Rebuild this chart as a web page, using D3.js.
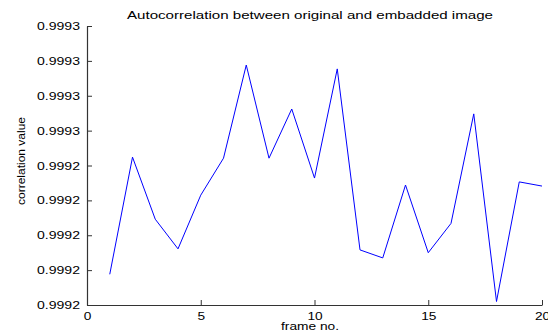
<!DOCTYPE html>
<html>
<head>
<meta charset="utf-8">
<script src="https://cdn.jsdelivr.net/npm/d3@7"></script>
<style>
  html, body { margin: 0; padding: 0; background: #fff; }
  svg { display: block; }
  text { font-family: "Liberation Sans", Arial, Helvetica, sans-serif; fill: #000; }
</style>
</head>
<body>
<svg id="chart" width="548" height="336"></svg>
<script>
// Frame numbers and the correlation between the original and the embedded frame
const frames = [1, 2, 3, 4, 5, 6, 7, 8, 9, 10, 11, 12, 13, 14, 15, 16, 17, 18, 19, 20];
const correlation = [
  0.9992088, 0.9992424, 0.9992246, 0.9992161, 0.9992315,
  0.9992421, 0.9992688, 0.9992421, 0.9992562, 0.9992364,
  0.9992677, 0.9992158, 0.9992135, 0.9992344, 0.9992150,
  0.9992234, 0.9992548, 0.9992010, 0.9992353, 0.9992341
];

// Axis ticks and their printed labels (4 significant decimals)
const xTicks = [0, 5, 10, 15, 20];
const yTicks = [0.99920, 0.99921, 0.99922, 0.99923, 0.99924, 0.99925, 0.99926, 0.99927, 0.99928];
const yTickLabels = ["0.9992", "0.9992", "0.9992", "0.9992", "0.9992", "0.9993", "0.9993", "0.9993", "0.9993"];

const titleText = "Autocorrelation between original and embadded image";
const xLabelText = "frame no.";
const yLabelText = "correlation value";

// Plot area
const plot = { left: 87, right: 542, top: 26, bottom: 305 };

const svg = d3.select("#chart");

const x = d3.scaleLinear().domain([0, 20]).range([plot.left, plot.right]);
const y = d3.scaleLinear().domain([0.99920, 0.99928]).range([plot.bottom, plot.top]);

// Bottom axis, ticks pointing into the plot
const xAxis = d3.axisBottom(x)
  .tickValues(xTicks)
  .tickSizeInner(-5)
  .tickSizeOuter(0)
  .tickPadding(8)
  .tickFormat(d3.format("d"));

const gx = svg.append("g")
  .attr("transform", `translate(0,${plot.bottom})`)
  .call(xAxis);

// Left axis, ticks pointing into the plot
const yAxis = d3.axisLeft(y)
  .tickValues(yTicks)
  .tickSizeInner(-5)
  .tickSizeOuter(0)
  .tickPadding(7)
  .tickFormat((d, i) => yTickLabels[i]);

const gy = svg.append("g")
  .attr("transform", `translate(${plot.left},0)`)
  .call(yAxis);

[gx, gy].forEach(g => {
  g.select(".domain").attr("stroke", "#333").attr("stroke-width", 1.2);
  g.selectAll(".tick line").attr("stroke", "#333").attr("stroke-width", 1);
  g.selectAll(".tick text")
    .attr("font-size", 10)
    .attr("font-family", "Liberation Sans, Arial, sans-serif")
    .attr("fill", "#000");
});

// Labels are drawn horizontally widened
gy.selectAll(".tick text")
  .attr("textLength", 43)
  .attr("lengthAdjust", "spacingAndGlyphs")
  .attr("dy", "0.35em");
gx.selectAll(".tick text")
  .attr("textLength", d => String(d).length * 7.6)
  .attr("lengthAdjust", "spacingAndGlyphs")
  .attr("dy", "0.71em");

// Series line
const line = d3.line()
  .x((d, i) => x(frames[i]))
  .y(d => y(d));

svg.append("path")
  .datum(correlation)
  .attr("fill", "none")
  .attr("stroke", "#0000ff")
  .attr("stroke-width", 1)
  .attr("stroke-linejoin", "miter")
  .attr("d", line);

// Title
svg.append("text")
  .attr("x", 310)
  .attr("y", 19)
  .attr("text-anchor", "middle")
  .attr("font-size", 11)
  .attr("textLength", 366)
  .attr("lengthAdjust", "spacingAndGlyphs")
  .text(titleText);

// X label
svg.append("text")
  .attr("x", 310)
  .attr("y", 330)
  .attr("text-anchor", "middle")
  .attr("font-size", 10)
  .attr("textLength", 58)
  .attr("lengthAdjust", "spacingAndGlyphs")
  .text(xLabelText);

// Y label
svg.append("text")
  .attr("transform", "translate(24.5,161) rotate(-90)")
  .attr("text-anchor", "middle")
  .attr("font-size", 11)
  .attr("textLength", 88)
  .attr("lengthAdjust", "spacingAndGlyphs")
  .text(yLabelText);
</script>
</body>
</html>
